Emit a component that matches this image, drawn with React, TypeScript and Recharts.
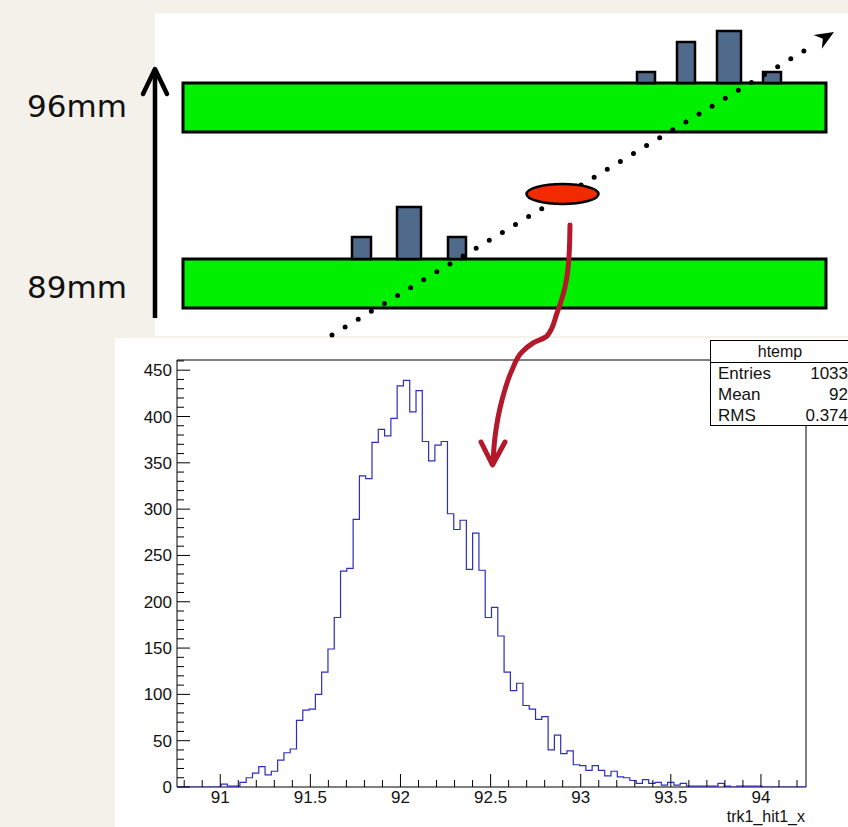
import React from "react";
import {
  ComposedChart,
  LineChart,
  Line,
  XAxis,
  YAxis,
  ReferenceArea,
  ReferenceDot,
} from "recharts";

// ---- histogram (htemp, trk1_hit1_x) ----
const X_MIN = 90.76;
const X_MAX = 94.25;
const Y_MAX = 461;

// entries per bin, 100 bins from X_MIN to X_MAX
const counts = [
  0, 0, 0, 0, 0, 0, 0, 3, 1, 1,
  5, 10, 15, 22, 13, 17, 29, 37, 41, 72,
  83, 84, 100, 124, 149, 183, 233, 236, 289, 336,
  333, 372, 386, 379, 398, 433, 439, 405, 428, 373,
  352, 369, 373, 295, 278, 288, 235, 274, 234, 183,
  194, 163, 124, 104, 112, 88, 84, 73, 76, 40,
  56, 36, 39, 24, 23, 18, 23, 18, 12, 17,
  11, 10, 7, 4, 8, 4, 5, 2, 5, 2,
  4, 1, 1, 1, 1, 1, 4, 1, 0, 1,
  1, 1, 1, 0, 0, 0, 0, 0, 0, 0,
];

const xMajor = [91, 91.5, 92, 92.5, 93, 93.5, 94];
const yMajor = [0, 50, 100, 150, 200, 250, 300, 350, 400, 450];

const statsTitle = "htemp";
const statsRows = [
  ["Entries", "1033"],
  ["Mean", "92"],
  ["RMS", "0.374"],
];

// ---- sketch above the histogram (page units) ----
const plates = [
  { x1: 183, x2: 826, y1: 83, y2: 132 },
  { x1: 183, x2: 826, y1: 259, y2: 308 },
];
const hits = [
  { x1: 637, x2: 655, y1: 72, y2: 83 },
  { x1: 677, x2: 695, y1: 42, y2: 83 },
  { x1: 717, x2: 741, y1: 31, y2: 83 },
  { x1: 763, x2: 781, y1: 72, y2: 83 },
  { x1: 352, x2: 371, y1: 237, y2: 259 },
  { x1: 397, x2: 421, y1: 207, y2: 259 },
  { x1: 448, x2: 466, y1: 237, y2: 259 },
];
const track = [
  { x: 332, y: 335 },
  { x: 812, y: 46 },
];
const trackTip = { x: 834, y: 32 };
const vertex = { x: 562.5, y: 194 };
const heightArrow = [
  { x: 155, y: 318 },
  { x: 155, y: 70 },
];
const heightArrowHead = [
  { x: 143, y: 94 },
  { x: 155, y: 69 },
  { x: 167, y: 94 },
];
const redArrow = [
  { x: 570, y: 225 },
  { x: 569, y: 257 },
  { x: 565, y: 287 },
  { x: 557, y: 313 },
  { x: 547, y: 336 },
  { x: 533, y: 343 },
  { x: 522, y: 352 },
  { x: 512, y: 370 },
  { x: 502, y: 400 },
  { x: 495, y: 437 },
  { x: 493, y: 462 },
];
const redArrowHead = [
  { x: 481, y: 442 },
  { x: 492.5, y: 465 },
  { x: 505, y: 442 },
];
const planeLabels = [
  { text: "96mm", top: 91 },
  { text: "89mm", top: 272 },
];

const FONT = "'Liberation Sans', Arial, Helvetica, sans-serif";

const binW = (X_MAX - X_MIN) / counts.length;
const histData = counts.map((c, i) => ({ x: X_MIN + i * binW, y: c }));
histData.push({ x: X_MAX, y: counts[counts.length - 1] });

const xTicks: number[] = [];
for (let k = 908; k <= 942; k++) xTicks.push(k / 10);
const yTicks: number[] = [];
for (let k = 0; k <= 460; k += 10) yTicks.push(k);

const isMajor = (list: number[], v: number) =>
  list.some((m) => Math.abs(m - v) < 1e-6);

const XTick = (props: any) => {
  const { x, y, payload } = props;
  const major = isMajor(xMajor, payload.value);
  return (
    <g>
      <line x1={x} x2={x} y1={y} y2={y - (major ? 13 : 7)} stroke="#000" />
      {major && (
        <text x={x} y={y + 16} textAnchor="middle" fontSize={17} fill="#111" fontFamily={FONT}>
          {String(payload.value)}
        </text>
      )}
    </g>
  );
};

const YTick = (props: any) => {
  const { x, y, payload } = props;
  const major = isMajor(yMajor, payload.value);
  return (
    <g>
      <line x1={x} x2={x + (major ? 13 : 7)} y1={y} y2={y} stroke="#000" />
      {major && (
        <text x={x - 5} y={y + 6} textAnchor="end" fontSize={17} fill="#111" fontFamily={FONT}>
          {String(payload.value)}
        </text>
      )}
    </g>
  );
};

function Histogram() {
  return (
    <LineChart
      width={733}
      height={489}
      data={histData}
      margin={{ top: 22, right: 42, bottom: 0, left: 0 }}
    >
      <XAxis
        dataKey="x"
        type="number"
        domain={[X_MIN, X_MAX]}
        allowDataOverflow
        ticks={xTicks}
        interval={0}
        tick={<XTick />}
        tickLine={false}
        tickSize={0}
        tickMargin={0}
        axisLine={false}
        height={40}
        label={{
          value: "trk1_hit1_x",
          position: "insideBottomRight",
          offset: 5,
          dx: 4,
          fontSize: 16,
          fill: "#111",
          fontFamily: FONT,
        }}
      />
      <YAxis
        type="number"
        domain={[0, Y_MAX]}
        allowDataOverflow
        ticks={yTicks}
        interval={0}
        tick={<YTick />}
        tickLine={false}
        tickSize={0}
        tickMargin={0}
        axisLine={false}
        width={62}
      />
      <ReferenceArea x1={X_MIN} x2={X_MAX} y1={0} y2={Y_MAX} fill="none" stroke="#000" strokeWidth={1} fillOpacity={0} />
      <Line
        type="stepAfter"
        dataKey="y"
        stroke="#2d2dc0"
        strokeWidth={1.2}
        dot={false}
        isAnimationActive={false}
      />
    </LineChart>
  );
}

function Sketch() {
  return (
    <ComposedChart
      width={848}
      height={827}
      margin={{ top: 0, right: 0, bottom: 0, left: 0 }}
      style={{ position: "absolute", left: 0, top: 0, pointerEvents: "none" }}
    >
      <XAxis dataKey="x" type="number" domain={[0, 848]} allowDataOverflow hide />
      <YAxis type="number" domain={[0, 827]} reversed allowDataOverflow hide />
      {plates.map((p, i) => (
        <ReferenceArea key={"p" + i} {...p} fill="#00f000" fillOpacity={1} stroke="#000" strokeWidth={3} />
      ))}
      {hits.map((h, i) => (
        <ReferenceArea key={"h" + i} {...h} fill="#506a8c" fillOpacity={1} stroke="#000" strokeWidth={2.5} />
      ))}
      <Line
        data={track}
        dataKey="y"
        stroke="#000"
        strokeWidth={5}
        strokeDasharray="0 15.3"
        strokeLinecap="round"
        dot={false}
        isAnimationActive={false}
      />
      <Line data={heightArrow} dataKey="y" stroke="#000" strokeWidth={4.5} dot={false} isAnimationActive={false} />
      <Line
        data={heightArrowHead}
        dataKey="y"
        stroke="#000"
        strokeWidth={4.5}
        strokeLinejoin="round"
        strokeLinecap="round"
        dot={false}
        isAnimationActive={false}
      />
      <Line
        data={redArrow}
        dataKey="y"
        type="monotoneY"
        stroke="#b3192b"
        strokeWidth={5}
        strokeLinecap="round"
        dot={false}
        isAnimationActive={false}
      />
      <Line
        data={redArrowHead}
        dataKey="y"
        stroke="#b3192b"
        strokeWidth={5}
        strokeLinejoin="round"
        strokeLinecap="round"
        dot={false}
        isAnimationActive={false}
      />
      <ReferenceDot
        x={vertex.x}
        y={vertex.y}
        shape={(p: any) => (
          <ellipse cx={p.cx} cy={p.cy} rx={36} ry={10} fill="#f22a00" stroke="#000" strokeWidth={2.5} />
        )}
      />
      <ReferenceDot
        x={trackTip.x}
        y={trackTip.y}
        shape={(p: any) => (
          <path
            d="M0,0 L-19,-8 L-13,0 L-19,8 Z"
            transform={`translate(${p.cx},${p.cy}) rotate(-31)`}
            fill="#000"
          />
        )}
      />
    </ComposedChart>
  );
}

export default function App() {
  return (
    <div
      style={{
        position: "absolute",
        left: 0,
        top: 0,
        width: 848,
        height: 827,
        overflow: "hidden",
        background: "#f4f1eb",
        fontFamily: FONT,
      }}
    >
      <div style={{ position: "absolute", left: 155, top: 13, width: 693, height: 323, background: "#fff" }} />
      <div style={{ position: "absolute", left: 115, top: 338, width: 733, height: 489, background: "#fff" }}>
        <Histogram />
      </div>
      <div
        style={{
          position: "absolute",
          left: 710,
          top: 340,
          width: 140,
          height: 86,
          border: "1px solid #000",
          background: "#fff",
          boxSizing: "border-box",
          color: "#111",
        }}
      >
        <div style={{ height: 21, borderBottom: "1px solid #000", textAlign: "center", fontSize: 16, lineHeight: "21px" }}>
          {statsTitle}
        </div>
        {statsRows.map(([k, v]) => (
          <div key={k} style={{ display: "flex", justifyContent: "space-between", padding: "0 1px 0 7px", fontSize: 17, lineHeight: "21px" }}>
            <span>{k}</span>
            <span>{v}</span>
          </div>
        ))}
      </div>
      {planeLabels.map((l) => (
        <div
          key={l.text}
          style={{
            position: "absolute",
            left: 27,
            top: l.top,
            fontSize: 31,
            lineHeight: "31px",
            fontFamily: "'DejaVu Sans', sans-serif",
            color: "#111",
          }}
        >
          {l.text}
        </div>
      ))}
      <Sketch />
    </div>
  );
}
